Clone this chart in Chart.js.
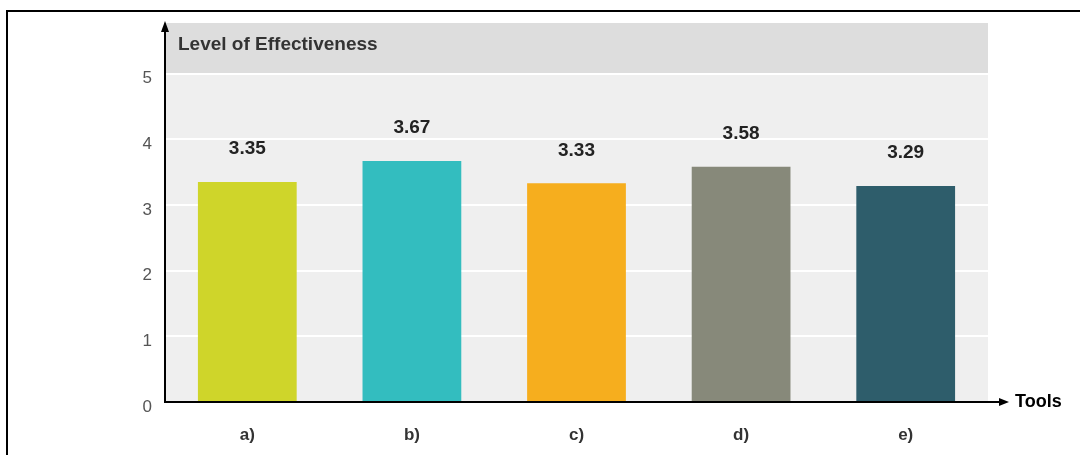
<!DOCTYPE html>
<html>
<head>
<meta charset="utf-8">
<script src="https://cdn.jsdelivr.net/npm/chart.js@4/dist/chart.umd.min.js"></script>
<style>
  body { margin: 0; background: #fff; }
  canvas { display: block; }
</style>
</head>
<body>
<canvas id="chart" width="1080" height="455"></canvas>
<script>
// data
const tools = ['a)', 'b)', 'c)', 'd)', 'e)'];
const effectiveness = [3.35, 3.67, 3.33, 3.58, 3.29];
const barColors = ['#cfd52a', '#33bdbf', '#f6ae1e', '#87897a', '#2e5d6b'];
const yTicks = [0, 1, 2, 3, 4, 5];

const FONT = '"Liberation Sans", Arial, sans-serif';

// backgrounds + header band behind the plot
const backdrop = {
  id: 'backdrop',
  beforeDraw(chart) {
    const { ctx, chartArea: a, scales } = chart;
    const y5 = scales.y.getPixelForValue(5);
    ctx.save();
    ctx.fillStyle = '#efefef';
    ctx.fillRect(a.left, a.top, a.right - a.left, a.bottom - a.top);
    ctx.fillStyle = '#dddddd';
    ctx.fillRect(a.left, a.top, a.right - a.left, y5 - a.top);
    ctx.fillStyle = '#333';
    ctx.font = 'bold 19px ' + FONT;
    ctx.textBaseline = 'middle';
    ctx.fillText('Level of Effectiveness', a.left + 13, a.top + 22);
    ctx.restore();
  }
};

// axis arrows, value labels and the outer frame
const overlay = {
  id: 'overlay',
  afterDraw(chart) {
    const { ctx, chartArea: a } = chart;
    ctx.save();
    ctx.strokeStyle = '#000';
    ctx.fillStyle = '#000';
    ctx.lineWidth = 2;

    // y axis
    ctx.beginPath();
    ctx.moveTo(a.left, a.bottom);
    ctx.lineTo(a.left, a.top + 8);
    ctx.stroke();
    ctx.beginPath();
    ctx.moveTo(a.left, a.top - 2);
    ctx.lineTo(a.left - 4, a.top + 9);
    ctx.lineTo(a.left + 4, a.top + 9);
    ctx.closePath();
    ctx.fill();

    // x axis
    const xEnd = 1009;
    ctx.beginPath();
    ctx.moveTo(a.left - 1, a.bottom);
    ctx.lineTo(xEnd - 8, a.bottom);
    ctx.stroke();
    ctx.beginPath();
    ctx.moveTo(xEnd, a.bottom);
    ctx.lineTo(xEnd - 10, a.bottom - 4);
    ctx.lineTo(xEnd - 10, a.bottom + 4);
    ctx.closePath();
    ctx.fill();

    ctx.font = 'bold 18px ' + FONT;
    ctx.textBaseline = 'middle';
    ctx.fillText('Tools', xEnd + 6, a.bottom);

    // value labels above bars
    const meta = chart.getDatasetMeta(0);
    ctx.fillStyle = '#222';
    ctx.font = 'bold 19px ' + FONT;
    ctx.textAlign = 'center';
    meta.data.forEach((bar, i) => {
      ctx.fillText(effectiveness[i].toFixed(2), bar.x, bar.y - 33);
    });

    // frame
    ctx.lineWidth = 2;
    ctx.beginPath();
    ctx.moveTo(1080, 11);
    ctx.lineTo(7, 11);
    ctx.lineTo(7, 455);
    ctx.stroke();
    ctx.restore();
  }
};

new Chart(document.getElementById('chart'), {
  type: 'bar',
  data: {
    labels: tools,
    datasets: [{
      data: effectiveness,
      backgroundColor: barColors,
      borderWidth: 0,
      barPercentage: 0.6,
      categoryPercentage: 1
    }]
  },
  options: {
    responsive: false,
    devicePixelRatio: 1,
    animation: false,
    layout: { padding: { top: 21, right: 92, left: 0, bottom: 0 } },
    plugins: {
      legend: { display: false },
      tooltip: { enabled: false }
    },
    scales: {
      x: {
        grid: { display: false },
        border: { display: false },
        ticks: {
          color: '#333',
          font: { family: FONT, size: 17, weight: 'bold' },
          padding: 15
        },
        afterFit(scale) { scale.height = 53; }
      },
      y: {
        min: 0,
        max: 5.77,
        grid: { color: '#ffffff', lineWidth: 2, drawTicks: false },
        border: { display: false },
        ticks: {
          stepSize: 1,
          color: '#555',
          padding: 13,
          font: { family: FONT, size: 17, lineHeight: '10px' },
          // empty first line pushes the number a few px below its gridline
          callback: (v) => ['', String(v)]
        },
        afterBuildTicks(axis) {
          axis.ticks = yTicks.map(v => ({ value: v }));
        },
        afterFit(scale) { scale.width = 165; }
      }
    }
  },
  plugins: [backdrop, overlay]
});
</script>
</body>
</html>
